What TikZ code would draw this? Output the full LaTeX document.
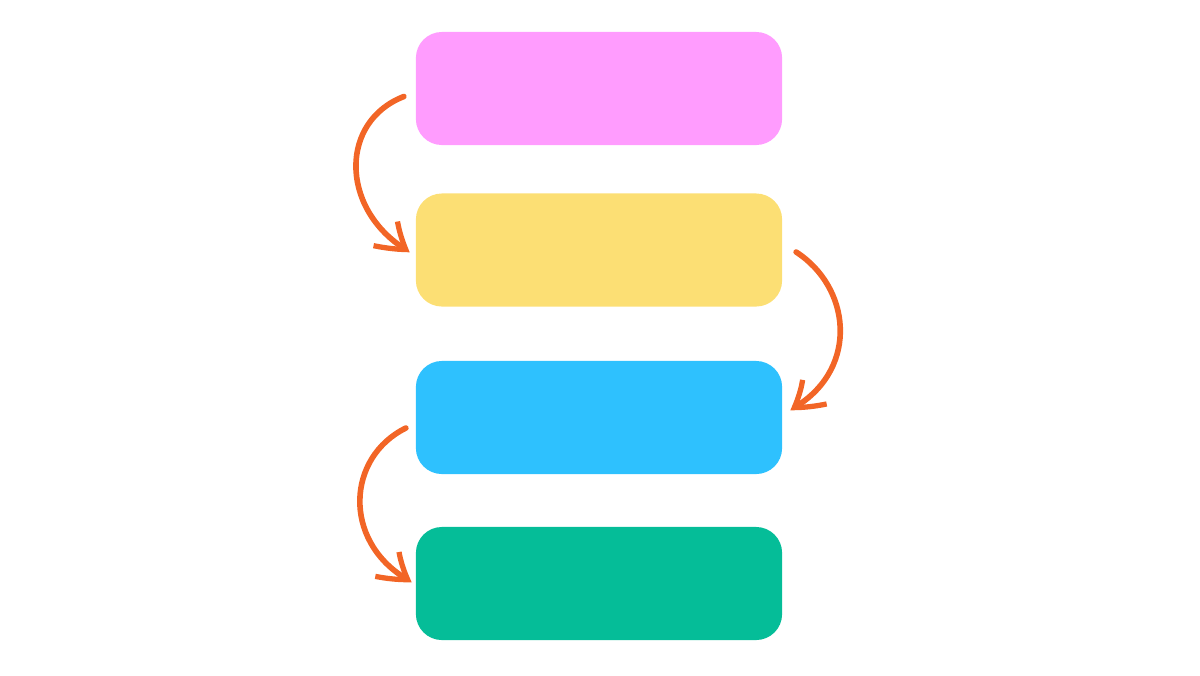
\documentclass[tikz,border=0pt]{standalone}
\usepackage{tikz}
\usetikzlibrary{arrows.meta,bending}
\usetikzlibrary{positioning}
\definecolor{pinkbox}{HTML}{FF9CFE}
\definecolor{yellowbox}{HTML}{FCDF74}
\definecolor{bluebox}{HTML}{2EC1FE}
\definecolor{greenbox}{HTML}{05BD98}
\definecolor{arroworange}{HTML}{F26526}
\tikzstyle{steps_style}=[
	x=0.01cm, y=-0.01cm,
	box/.style={rectangle,rounded corners=0.26cm,draw=none,minimum width=3.66cm,minimum height=1.13cm,inner sep=0pt,outer sep=0pt},
	flow/.style={-{Straight Barb[bend,length=2.6mm,width=3.4mm,line width=1.5pt]},draw=arroworange,line width=1.6pt,line cap=round}
]

\begin{document}
\begin{tikzpicture}[steps_style]
	\useasboundingbox (0,0) rectangle (1200,675);
	
	%boxes
	\node[box,fill=pinkbox] (b1) at (599,88.5) {};
	\node[box,fill=yellowbox] (b2) at (599,250) {};
	\node[box,fill=bluebox] (b3) at (599,417.5) {};
	\node[box,fill=greenbox] (b4) at (599,583.5) {};
	
	%arrows
	\draw[flow] ([xshift=-0.12cm,yshift=-0.08cm]b1.west) .. controls (338,122) and (340,212) .. ([xshift=-0.06cm,yshift=-0.02cm]b2.west);
	\draw[flow] ([xshift=0.14cm,yshift=-0.02cm]b2.east) .. controls (852,288) and (860,372) .. ([xshift=0.08cm,yshift=0.075cm]b3.east);
	\draw[flow] ([xshift=-0.10cm,yshift=-0.105cm]b3.west) .. controls (345,458) and (342,545) .. ([xshift=-0.04cm,yshift=0.015cm]b4.west);
	
\end{tikzpicture}
\end{document}
